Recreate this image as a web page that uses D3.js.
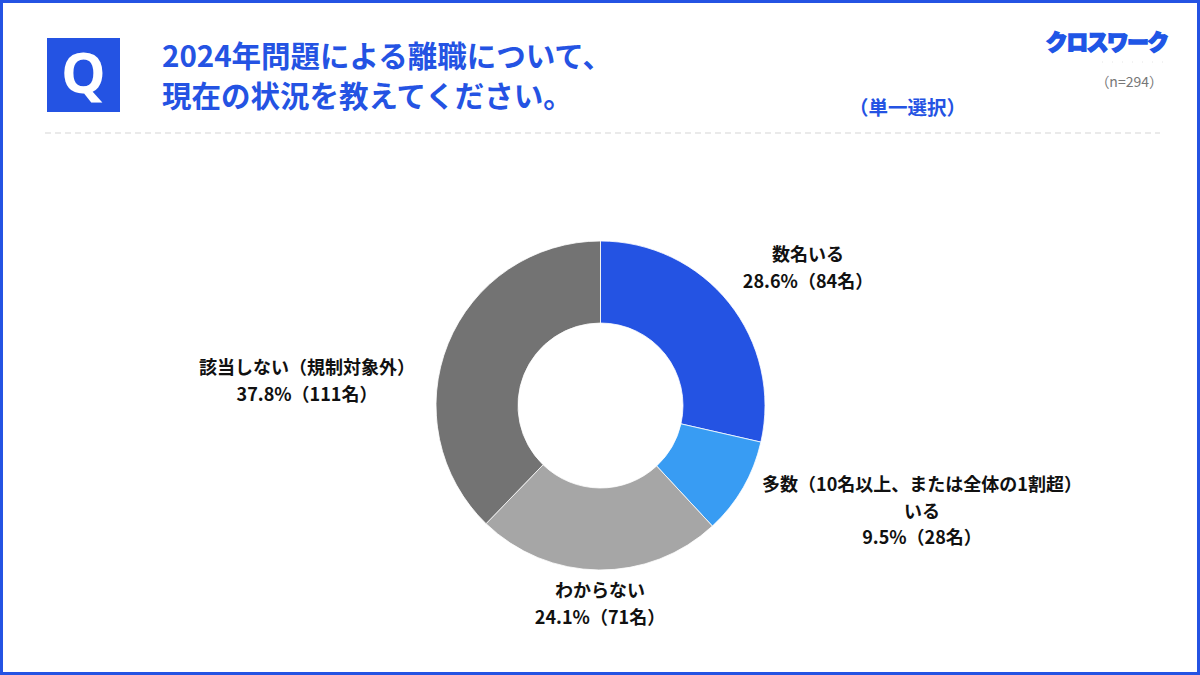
<!DOCTYPE html>
<html><head><meta charset="utf-8">
<script src="https://cdn.jsdelivr.net/npm/d3@7"></script>
<style>
html,body{margin:0;padding:0;background:#fff;}
svg{display:block;font-family:"Noto Sans CJK JP","Noto Sans",sans-serif;}
</style></head>
<body><svg id="c" width="1200" height="675"></svg>
<script>
const categories = ["数名いる", "多数（10名以上、または全体の1割超）いる", "わからない", "該当しない（規制対象外）"];
const labelLines = [["数名いる"], ["多数（10名以上、または全体の1割超）", "いる"], ["わからない"], ["該当しない（規制対象外）"]];
const counts = [84, 28, 71, 111];
const percents = ["28.6%", "9.5%", "24.1%", "37.8%"];
const colors = ["#2453e3", "#389cf3", "#a6a6a6", "#737373"];
const titleLines = ["2024年問題による離職について、", "現在の状況を教えてください。"];
const sampleText = "（n=294）";
const selectText = "（単一選択）";
const logoText = "クロスワーク";
// label anchor positions (center x, first-line y)
const labelPos = [[808, 255], [922, 485], [600, 591], [307, 368]];

const svg = d3.select("#c");
const BLUE = "#2453e3";

// frame
svg.append("rect").attr("x", 1.5).attr("y", 1.5).attr("width", 1197).attr("height", 672)
  .attr("fill", "#fff").attr("stroke", BLUE).attr("stroke-width", 3);

// Q box
svg.append("rect").attr("x", 47).attr("y", 38).attr("width", 73).attr("height", 74).attr("fill", BLUE);
svg.append("text").attr("x", 83.5).attr("y", 93).attr("text-anchor", "middle")
  .attr("fill", "#fff").attr("font-size", 56).attr("font-weight", 700)
  .attr("font-family", "'Noto Sans','Open Sans',sans-serif").text("Q");

// title
svg.selectAll(".title").data(titleLines).join("text")
  .attr("x", 162).attr("y", (d, i) => 67 + i * 40)
  .attr("fill", BLUE).attr("font-size", 29.5).attr("font-weight", 700).text(d => d);

// dashed separator
svg.append("line").attr("x1", 45).attr("x2", 1160).attr("y1", 133).attr("y2", 133)
  .attr("stroke", "#d6d6d6").attr("stroke-width", 1.2).attr("stroke-dasharray", "6,4");

// logo
svg.append("text").attr("x", 1107).attr("y", 50).attr("text-anchor", "middle")
  .attr("fill", "#1f56e6").attr("stroke", "#1f56e6").attr("stroke-width", 1.6)
  .attr("font-size", 21.5).attr("font-weight", 900).attr("letter-spacing", -1.2).text(logoText);
svg.append("line").attr("x1", 1102).attr("x2", 1165).attr("y1", 62).attr("y2", 62)
  .attr("stroke", "#e4e4e4").attr("stroke-width", 1).attr("stroke-dasharray", "1,9");

svg.append("text").attr("x", 1163).attr("y", 87).attr("text-anchor", "end")
  .attr("fill", "#777").attr("font-size", 14).text(sampleText);
svg.append("text").attr("x", 966).attr("y", 115).attr("text-anchor", "end")
  .attr("fill", BLUE).attr("font-size", 19.5).attr("font-weight", 700).text(selectText);

// donut
const cx = 600.5, cy = 405.5, R = 164.5, r = 82.5;
const pie = d3.pie().sort(null).value(d => d);
const arc = d3.arc().innerRadius(r).outerRadius(R);
const g = svg.append("g").attr("transform", `translate(${cx},${cy})`);
g.selectAll("path").data(pie(counts)).join("path")
  .attr("d", arc).attr("fill", (d, i) => colors[i])
  .attr("stroke", "#fff").attr("stroke-width", 0.8);

// labels
const lg = svg.append("g");
categories.forEach((c, i) => {
  const lines = labelLines[i].concat([`${percents[i]}（${counts[i]}名）`]);
  const [x, y] = labelPos[i];
  lines.forEach((t, j) => {
    lg.append("text").attr("x", x).attr("y", y + j * 26.5).attr("dy", "0.35em")
      .attr("text-anchor", "middle").attr("fill", "#111")
      .attr("font-size", 18).attr("font-weight", 700).text(t);
  });
});
</script></body></html>
